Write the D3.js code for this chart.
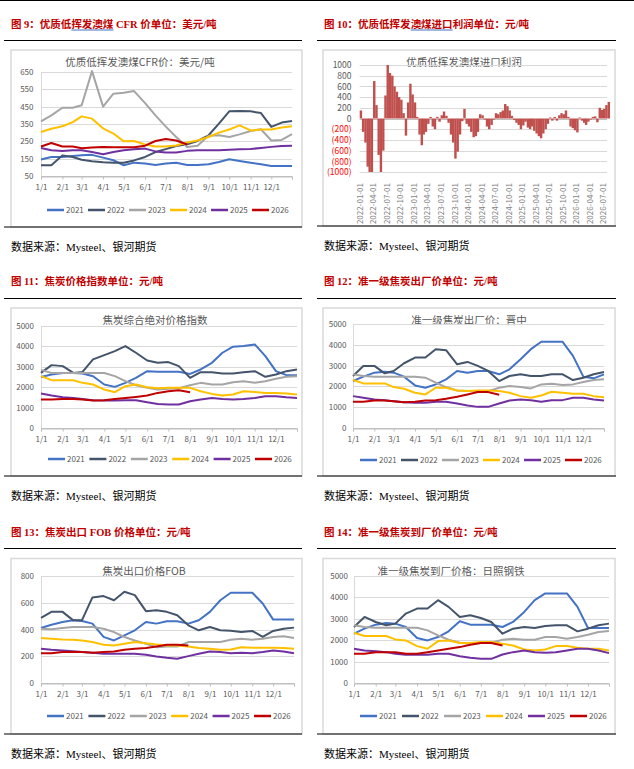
<!DOCTYPE html>
<html>
<head>
<meta charset="utf-8">
<script src="https://cdn.jsdelivr.net/npm/d3@7"></script>
<style>
  body { margin: 0; background: #fff; }
  svg { display: block; }
</style>
</head>
<body>
<svg id="page" width="634" height="769"></svg>
<script>
// ---- data (semi-monthly readings: 1/1, 1/16, 2/1, 2/16 ... 12/1, 12/16, 12/31) ----
var years = ['2021', '2022', '2023', '2024', '2025', '2026']
var colors = ['#4472C4', '#44546A', '#A5A5A5', '#FFC000', '#7030A0', '#C00000']

// fig 9: CFR price, USD/t
var cfr2021 = [145, 160, 160, 166, 170, 172, 156, 141, 112, 127, 122, 114, 122, 127, 114, 114, 118, 131, 147, 137, 127, 118, 108, 108, 108]
var cfr2022 = [112, 112, 169, 160, 144, 135, 129, 127, 127, 140, 160, 188, 205, 223, 233, 252, 285, 352, 423, 425, 423, 413, 333, 358, 367]
var cfr2023 = [365, 400, 444, 444, 458, 655, 450, 525, 530, 540, 470, 400, 335, 275, 217, 224, 282, 285, 275, 290, 310, 320, 255, 258, 292]
var cfr2024 = [304, 323, 337, 361, 394, 381, 325, 295, 250, 252, 232, 220, 220, 226, 243, 255, 275, 300, 318, 342, 313, 318, 318, 330, 337]
var cfr2025 = [212, 198, 194, 198, 198, 188, 176, 188, 199, 204, 208, 192, 186, 186, 195, 198, 198, 198, 202, 204, 206, 212, 218, 223, 224]
var cfr2026 = [220, 240, 220, 220, 210, 215, 218, 216, 216, 216, 225, 252, 263, 255, 232]

// fig 10: import profit, yuan/t, semi-monthly from 2022-01-01
var profit2022 = [150, -250, -450, -900, -1000, -1000, 700, 250, -680, -1000, -600, 430, 1000, 850, 800, 600, 500, 400, 350, 100, -320, 300, 650, 450]
var profit2023 = [300, 30, -300, -500, -300, -250, -100, 30, -150, -200, 30, -60, 60, 130, 50, -80, -300, -450, -750, -620, -300, -50, 180, -100]
var profit2024 = [-150, -250, -350, -330, -250, 80, 60, -20, -150, -200, -120, -20, 100, 80, 120, 150, 270, 230, 150, 50, -30, -80, -120, -200]
var profit2025 = [-130, -60, -170, -200, -150, -230, -280, -330, -370, -280, -200, -100, 20, -40, 30, -40, 60, 100, 80, 150, 30, -150, -180, -220]
var profit2026 = [-260, 20, -40, -80, -120, -60, -20, 30, 40, -70, 200, 160, 180, 250, 310]

// fig 11: coke composite price index
var idx2021 = [2500, 2620, 2700, 2700, 2670, 2540, 2130, 2016, 2213, 2459, 2787, 2754, 2754, 2754, 2650, 2869, 3197, 3689, 3984, 4016, 4098, 3525, 2787, 2590, 2590]
var idx2022 = [2700, 3082, 3033, 2700, 2750, 3361, 3574, 3770, 4016, 3689, 3311, 3197, 3230, 3033, 2459, 2738, 2738, 2672, 2672, 2738, 2787, 2508, 2623, 2787, 2869]
var idx2023 = [2850, 2700, 2700, 2700, 2700, 2700, 2700, 2541, 2295, 2098, 1967, 1885, 1918, 1950, 2098, 2213, 2131, 2131, 2246, 2295, 2213, 2295, 2410, 2508, 2541]
var idx2024 = [2541, 2344, 2344, 2344, 2213, 2131, 1885, 1754, 2049, 2131, 2000, 1950, 1967, 1967, 1967, 1803, 1672, 1590, 1639, 1803, 1770, 1721, 1721, 1689, 1639]
var idx2025 = [1689, 1590, 1508, 1475, 1426, 1361, 1344, 1344, 1361, 1361, 1262, 1180, 1148, 1148, 1311, 1393, 1475, 1426, 1393, 1426, 1475, 1557, 1557, 1508, 1475]
var idx2026 = [1393, 1393, 1426, 1426, 1393, 1344, 1361, 1426, 1475, 1525, 1590, 1721, 1803, 1852, 1754]

// fig 12: ex-works price, Jinzhong
var jz2021 = [2258, 2468, 2661, 2710, 2661, 2468, 2048, 1935, 2097, 2339, 2742, 2661, 2742, 2742, 2581, 2823, 3306, 3790, 4145, 4145, 4145, 3468, 2468, 2387, 2581]
var jz2022 = [2500, 2984, 2984, 2629, 2742, 3113, 3387, 3387, 3790, 3742, 3064, 3177, 2984, 2742, 2258, 2500, 2581, 2500, 2500, 2581, 2581, 2306, 2419, 2581, 2694]
var jz2023 = [2581, 2500, 2468, 2468, 2468, 2468, 2468, 2419, 2177, 1968, 1806, 1774, 1774, 1774, 1935, 2016, 1968, 1903, 2097, 2129, 2064, 2097, 2210, 2306, 2339]
var jz2024 = [2306, 2145, 2145, 2145, 1968, 1887, 1694, 1613, 1935, 1935, 1806, 1774, 1806, 1806, 1774, 1694, 1532, 1452, 1565, 1742, 1694, 1645, 1645, 1532, 1484]
var jz2025 = [1532, 1452, 1371, 1339, 1290, 1242, 1210, 1210, 1258, 1258, 1177, 1081, 1016, 1016, 1177, 1323, 1371, 1339, 1258, 1339, 1339, 1452, 1452, 1371, 1323]
var jz2026 = [1258, 1258, 1323, 1323, 1290, 1242, 1258, 1323, 1339, 1403, 1500, 1613, 1726, 1726, 1600]

// fig 13: export FOB
var fob2021 = [411, 436, 456, 469, 464, 444, 345, 318, 356, 394, 456, 444, 461, 461, 444, 469, 532, 619, 675, 675, 675, 594, 474, 474, 474]
var fob2022 = [487, 532, 532, 470, 470, 640, 650, 619, 682, 657, 537, 544, 532, 507, 431, 394, 419, 394, 391, 381, 389, 344, 389, 406, 414]
var fob2023 = [406, 401, 411, 419, 419, 419, 406, 381, 344, 318, 293, 268, 273, 273, 306, 306, 306, 306, 324, 331, 324, 331, 344, 349, 336]
var fob2024 = [336, 331, 326, 324, 318, 306, 286, 281, 293, 306, 298, 288, 281, 281, 273, 261, 256, 248, 251, 268, 263, 263, 263, 261, 256]
var fob2025 = [256, 248, 243, 238, 231, 226, 218, 218, 218, 218, 211, 198, 188, 181, 201, 218, 236, 231, 223, 226, 223, 231, 243, 236, 223]
var fob2026 = [223, 223, 231, 231, 231, 226, 231, 236, 248, 256, 261, 273, 286, 286, 281]

// fig 14: delivered price, Rizhao Steel
var rz2021 = [2303, 2539, 2726, 2805, 2774, 2617, 2100, 1990, 2147, 2413, 2883, 2726, 2726, 2726, 2617, 2852, 3322, 3870, 4184, 4184, 4184, 3557, 2570, 2570, 2570]
var rz2022 = [2617, 3087, 2852, 2695, 2774, 3244, 3479, 3479, 3870, 3557, 3087, 3165, 3040, 2852, 2303, 2539, 2617, 2570, 2664, 2695, 2695, 2413, 2539, 2695, 2774]
var rz2023 = [2695, 2617, 2586, 2586, 2586, 2586, 2586, 2460, 2225, 2021, 1880, 1833, 1865, 1880, 2021, 2068, 2021, 2021, 2147, 2147, 2068, 2147, 2256, 2382, 2429]
var rz2024 = [2350, 2194, 2194, 2194, 2037, 1990, 1724, 1598, 1959, 1990, 1865, 1865, 1912, 1912, 1833, 1755, 1567, 1520, 1567, 1724, 1724, 1645, 1598, 1598, 1520]
var rz2025 = [1598, 1520, 1489, 1442, 1363, 1316, 1316, 1316, 1363, 1363, 1254, 1175, 1128, 1128, 1332, 1442, 1520, 1442, 1410, 1442, 1520, 1598, 1598, 1520, 1395]
var rz2026 = [1363, 1363, 1442, 1442, 1442, 1363, 1363, 1442, 1520, 1598, 1677, 1786, 1865, 1865, 1755]

var monthLabels = ['1/1', '2/1', '3/1', '4/1', '5/1', '6/1', '7/1', '8/1', '9/1', '10/1', '11/1', '12/1']

// ---- helpers ----
var cjk = '"Noto Sans CJK SC", "Noto Sans", sans-serif'
var mixSerif = '"Liberation Serif", "Noto Sans CJK SC", serif'
var grey = '#595959'

// reading dates inside a reference year
var halfMonths = []
for (var m = 0; m < 12; m++) {
  halfMonths.push(new Date(2021, m, 1))
  halfMonths.push(new Date(2021, m, 16))
}
halfMonths.push(new Date(2021, 11, 31))

var svg = d3.select('#page')

svg.append('line')
   .attr('x1', 0).attr('x2', 634).attr('y1', 0.5).attr('y2', 0.5)
   .style('stroke', '#000').style('stroke-width', 1)

var drawFrame = function (p) {
  // red caption, black rules, chart box and source line
  var t = svg.append('text')
             .attr('x', p.left + 7)
             .attr('y', p.titleY)
             .attr('font-family', mixSerif)
             .attr('font-weight', 'bold')
             .attr('font-size', 10.5)
             .style('fill', '#C00000')
  t.append('tspan').text(p.title[0])
  if (p.title.length > 1) {
    t.append('tspan').text(p.title[1])
    t.append('tspan').text(p.title[2])
    var el = t.node()
    var a = el.getSubStringLength(0, p.title[0].length)
    var w = el.getSubStringLength(p.title[0].length, p.title[1].length)
    svg.append('line')
       .attr('x1', p.left + 7 + a).attr('x2', p.left + 7 + a + w)
       .attr('y1', p.titleY + 2).attr('y2', p.titleY + 2)
       .style('stroke', '#4472C4').style('stroke-width', 1)
  }

  svg.append('line')
     .attr('x1', p.left).attr('x2', p.right).attr('y1', p.ruleTop).attr('y2', p.ruleTop)
     .style('stroke', '#000').style('stroke-width', 1.2)

  svg.append('rect')
     .attr('x', p.boxX).attr('y', p.boxTop)
     .attr('width', p.boxR - p.boxX).attr('height', p.ruleBottom - p.boxTop)
     .style('fill', '#fff').style('stroke', '#d9d9d9').style('stroke-width', 1.5)

  svg.append('line')
     .attr('x1', p.left).attr('x2', p.right).attr('y1', p.ruleBottom).attr('y2', p.ruleBottom)
     .style('stroke', '#000').style('stroke-width', 1.2)

  svg.append('text')
     .attr('x', p.left + 7)
     .attr('y', p.ruleBottom + 24)
     .attr('font-family', mixSerif)
     .attr('font-size', 11)
     .style('fill', '#000')
     .text('数据来源：Mysteel、银河期货')

  svg.append('text')
     .attr('x', p.chartTitleX)
     .attr('y', p.boxTop + 16)
     .attr('text-anchor', 'middle')
     .attr('font-family', cjk)
     .attr('font-size', 10.5)
     .style('fill', grey)
     .text(p.chartTitle)
}

var drawLines = function (p) {
  drawFrame(p)
  var g = svg.append('g')
  var x = d3.scaleTime().domain([new Date(2021, 0, 1), new Date(2021, 11, 31)]).range([p.x0, p.x1])
  var y = d3.scaleLinear().domain(p.yDomain).range([p.yBottom, p.yTop])

  g.selectAll('line.grid')
   .data(p.yTicks)
   .enter().append('line')
   .attr('x1', p.x0).attr('x2', p.x1)
   .attr('y1', d => Math.round(y(d)) + 0.5).attr('y2', d => Math.round(y(d)) + 0.5)
   .style('stroke', (d, i) => i === 0 ? '#bfbfbf' : '#d9d9d9')
   .style('stroke-width', 1)

  var yAxis = d3.axisLeft(y).tickValues(p.yTicks).tickSize(0).tickPadding(p.x0 - p.labelR)
                .tickFormat(d3.format('d'))
  var ya = g.append('g').attr('transform', 'translate(' + p.x0 + ',0)').call(yAxis)
  ya.select('.domain').style('stroke', '#d9d9d9')
  ya.selectAll('text').attr('font-family', cjk).attr('font-size', 8).style('fill', grey)

  var monthTicks = d3.timeMonth.range(new Date(2021, 0, 1), new Date(2022, 0, 1))
  var xAxis = d3.axisBottom(x)
                .tickValues(monthTicks.concat([new Date(2021, 11, 31)]))
                .tickFormat((d, i) => monthLabels[i] || '')
                .tickSize(3)
                .tickPadding(4.5)
  var xa = g.append('g').attr('transform', 'translate(0,' + (Math.round(p.yBottom) + 0.5) + ')').call(xAxis)
  xa.select('.domain').style('stroke', '#bfbfbf')
  xa.selectAll('.tick line').style('stroke', '#bfbfbf')
  xa.selectAll('text').attr('font-family', cjk).attr('font-size', 8).style('fill', grey)

  var line = d3.line()
               .x((d, i) => x(halfMonths[i]))
               .y(d => y(d))

  p.series.forEach((s, i) => {
    g.append('path')
     .attr('d', line(s))
     .style('fill', 'none')
     .style('stroke', colors[i])
     .style('stroke-width', 2)
     .style('stroke-linejoin', 'round')
  })

  years.forEach((yr, i) => {
    var lx = p.legendX + i * p.legendStep
    g.append('line')
     .attr('x1', lx).attr('x2', lx + 17)
     .attr('y1', p.legendY).attr('y2', p.legendY)
     .style('stroke', colors[i]).style('stroke-width', 2.5)
    g.append('text')
     .attr('x', lx + 19)
     .attr('y', p.legendY + 3)
     .attr('font-family', cjk)
     .attr('font-size', 8)
     .style('fill', grey)
     .text(yr)
  })
}

var drawBars = function (p) {
  drawFrame(p)
  var g = svg.append('g')
  var x = d3.scaleTime().domain([new Date(2022, 0, 1), new Date(2026, 6, 1)]).range([p.x0, p.x1])
  var y = d3.scaleLinear().domain([-1000, 1000]).range([p.yBottom, p.yTop])
  var yTicks = d3.range(-1000, 1001, 200)

  g.selectAll('line.grid')
   .data(yTicks)
   .enter().append('line')
   .attr('x1', p.x0).attr('x2', p.xEnd)
   .attr('y1', d => Math.round(y(d)) + 0.5).attr('y2', d => Math.round(y(d)) + 0.5)
   .style('stroke', d => d === 0 ? '#bfbfbf' : '#d9d9d9')
   .style('stroke-width', 1)

  var yAxis = d3.axisLeft(y).tickValues(yTicks).tickSize(0).tickPadding(p.x0 - p.labelR)
                .tickFormat(d => d < 0 ? '(' + (-d) + ')' : d)
  var ya = g.append('g').attr('transform', 'translate(' + p.x0 + ',0)').call(yAxis)
  ya.select('.domain').remove()
  ya.selectAll('text')
    .attr('font-family', cjk).attr('font-size', 8.5)
    .style('fill', d => d < 0 ? '#FF0000' : grey)

  var bars = []
  p.series.forEach((s, k) => {
    s.forEach((v, i) => {
      var month = Math.floor(i / 2)
      bars.push({ date: new Date(2022 + k, month, i % 2 ? 16 : 1), value: v })
    })
  })

  g.selectAll('rect.bar')
   .data(bars)
   .enter().append('rect')
   .attr('x', d => x(d.date))
   .attr('width', d => x(d3.timeDay.offset(d.date, 15)) - x(d.date) + 0.2)
   .attr('y', d => y(Math.max(0, d.value)))
   .attr('height', d => Math.abs(y(d.value) - y(0)))
   .style('fill', '#C0504D')

  var xAxis = d3.axisBottom(x)
                .tickValues(d3.timeMonth.every(3).range(new Date(2022, 0, 1), new Date(2026, 6, 2)))
                .tickFormat(d3.timeFormat('%Y-%m-%d'))
                .tickSize(0)
  var xa = g.append('g').attr('transform', 'translate(0,' + p.labelTop + ')').call(xAxis)
  xa.select('.domain').remove()
  xa.selectAll('text')
    .attr('transform', 'rotate(-90)')
    .attr('text-anchor', 'end')
    .attr('x', -1)
    .attr('y', 0)
    .attr('dy', '0.35em')
    .attr('font-family', cjk)
    .attr('font-size', 8)
    .style('fill', '#7f7f7f')
}

// ---- panels ----
var L = { left: 4, right: 302, boxX: 11, boxR: 302 }
var R = { left: 317, right: 616, boxX: 323, boxR: 615 }

drawLines(Object.assign({}, L, {
  title: ['图 9：优质低', '挥发澳煤', ' CFR 价单位：美元/吨'], titleY: 28, ruleTop: 40.5, boxTop: 50, ruleBottom: 227,
  chartTitle: '优质低挥发澳煤CFR价：美元/吨', chartTitleX: 140,
  x0: 41, x1: 292, yTop: 72, yBottom: 176, labelR: 33.5,
  yDomain: [50, 650], yTicks: d3.range(50, 651, 100),
  legendX: 47, legendStep: 41, legendY: 210,
  series: [cfr2021, cfr2022, cfr2023, cfr2024, cfr2025, cfr2026]
}))

drawBars(Object.assign({}, R, {
  title: ['图 10：优质低挥发', '澳煤进口', '利润单位：元/吨'], titleY: 28, ruleTop: 40.5, boxTop: 50, ruleBottom: 226,
  chartTitle: '优质低挥发澳煤进口利润', chartTitleX: 464,
  x0: 359.7, x1: 603, xEnd: 607, yTop: 65, yBottom: 172, labelR: 351.5, labelTop: 182,
  series: [profit2022, profit2023, profit2024, profit2025, profit2026]
}))

drawLines(Object.assign({}, L, {
  title: ['图 11：焦炭价格指数单位：元/吨'], titleY: 285, ruleTop: 298.5, boxTop: 308, ruleBottom: 476,
  chartTitle: '焦炭综合绝对价格指数', chartTitleX: 155,
  x0: 41, x1: 297, yTop: 326, yBottom: 428, labelR: 34,
  yDomain: [0, 5000], yTicks: d3.range(0, 5001, 1000),
  legendX: 48, legendStep: 41.4, legendY: 459,
  series: [idx2021, idx2022, idx2023, idx2024, idx2025, idx2026]
}))

drawLines(Object.assign({}, R, {
  title: ['图 12：准一级焦炭出厂价单位：元/吨'], titleY: 285, ruleTop: 298.5, boxTop: 308, ruleBottom: 476,
  chartTitle: '准一级焦炭出厂价：晋中', chartTitleX: 469,
  x0: 353, x1: 604, yTop: 324, yBottom: 428, labelR: 346.5,
  yDomain: [0, 5000], yTicks: d3.range(0, 5001, 1000),
  legendX: 360, legendStep: 41, legendY: 460,
  series: [jz2021, jz2022, jz2023, jz2024, jz2025, jz2026]
}))

drawLines(Object.assign({}, L, {
  title: ['图 13：焦炭出口 FOB 价格单位：元/吨'], titleY: 536, ruleTop: 548.5, boxTop: 558.5, ruleBottom: 734,
  chartTitle: '焦炭出口价格FOB', chartTitleX: 144,
  x0: 41, x1: 294, yTop: 576, yBottom: 683, labelR: 34,
  yDomain: [0, 800], yTicks: d3.range(0, 801, 200),
  legendX: 47, legendStep: 41.4, legendY: 716,
  series: [fob2021, fob2022, fob2023, fob2024, fob2025, fob2026]
}))

drawLines(Object.assign({}, R, {
  title: ['图 14：准一级焦炭到厂价单位：元/吨'], titleY: 536, ruleTop: 548.5, boxTop: 558.5, ruleBottom: 734,
  chartTitle: '准一级焦炭到厂价格：日照钢铁', chartTitleX: 451,
  x0: 354, x1: 609, yTop: 576, yBottom: 683, labelR: 348,
  yDomain: [0, 5000], yTicks: d3.range(0, 5001, 1000),
  legendX: 360, legendStep: 42, legendY: 716,
  series: [rz2021, rz2022, rz2023, rz2024, rz2025, rz2026]
}))
</script>
</body>
</html>
